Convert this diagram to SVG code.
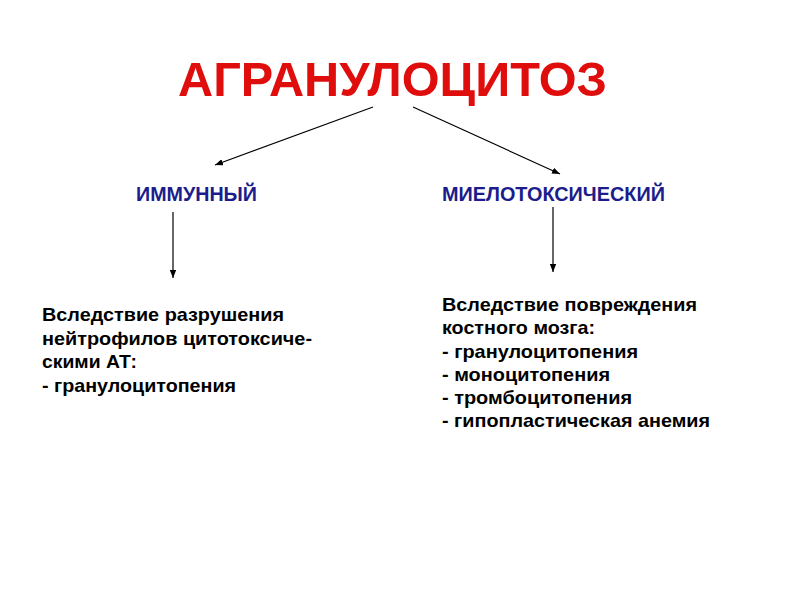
<svg xmlns="http://www.w3.org/2000/svg" width="800" height="600" viewBox="0 0 800 600">
<defs>
<style>
.title{font-family:"Liberation Sans",Arial,sans-serif;font-weight:bold;font-size:48px;fill:#e00d0d}
.cat{font-family:"Liberation Sans",Arial,sans-serif;font-weight:bold;font-size:20px;fill:#1c1c8c}
.body{font-family:"Liberation Sans",Arial,sans-serif;font-weight:bold;font-size:19px;fill:#000}
.conn{stroke:#000;stroke-width:1.2;fill:none;marker-end:url(#ah)}
</style>
<marker id="ah" viewBox="0 0 10 8" refX="10" refY="4" markerWidth="8" markerHeight="6.5" markerUnits="userSpaceOnUse" orient="auto">
<path d="M0,0 L10,4 L0,8 z" fill="#000"/>
</marker>
</defs>
<rect width="800" height="600" fill="#fff"/>
<g id="title">
<text class="title" x="178" y="96" textLength="429" lengthAdjust="spacingAndGlyphs">АГРАНУЛОЦИТОЗ</text>
</g>
<g id="immune">
<text class="cat" x="136" y="201" textLength="121" lengthAdjust="spacingAndGlyphs">ИММУННЫЙ</text>
</g>
<g id="myelotoxic">
<text class="cat" x="442" y="201" textLength="223" lengthAdjust="spacingAndGlyphs">МИЕЛОТОКСИЧЕСКИЙ</text>
</g>
<g id="immune-desc">
<text class="body" x="42" y="321" textLength="242" lengthAdjust="spacingAndGlyphs">Вследствие разрушения</text>
<text class="body" x="42" y="345" textLength="270" lengthAdjust="spacingAndGlyphs">нейтрофилов цитотоксиче-</text>
<text class="body" x="42" y="368" textLength="95" lengthAdjust="spacingAndGlyphs">скими АТ:</text>
<text class="body" x="42" y="392" textLength="194" lengthAdjust="spacingAndGlyphs">- гранулоцитопения</text>
</g>
<g id="myelotoxic-desc">
<text class="body" x="442" y="311" textLength="255" lengthAdjust="spacingAndGlyphs">Вследствие повреждения</text>
<text class="body" x="442" y="334" textLength="153" lengthAdjust="spacingAndGlyphs">костного мозга:</text>
<text class="body" x="442" y="358" textLength="196" lengthAdjust="spacingAndGlyphs">- гранулоцитопения</text>
<text class="body" x="442" y="381" textLength="168" lengthAdjust="spacingAndGlyphs">- моноцитопения</text>
<text class="body" x="442" y="404" textLength="190" lengthAdjust="spacingAndGlyphs">- тромбоцитопения</text>
<text class="body" x="442" y="427" textLength="268" lengthAdjust="spacingAndGlyphs">- гипопластическая анемия</text>
</g>
<g id="connectors">
<line class="conn" x1="373" y1="107" x2="215" y2="165"/>
<line class="conn" x1="413" y1="107" x2="560" y2="174"/>
<line class="conn" x1="173" y1="212" x2="173" y2="278"/>
<line class="conn" x1="553" y1="207" x2="553" y2="272"/>
</g>
</svg>
